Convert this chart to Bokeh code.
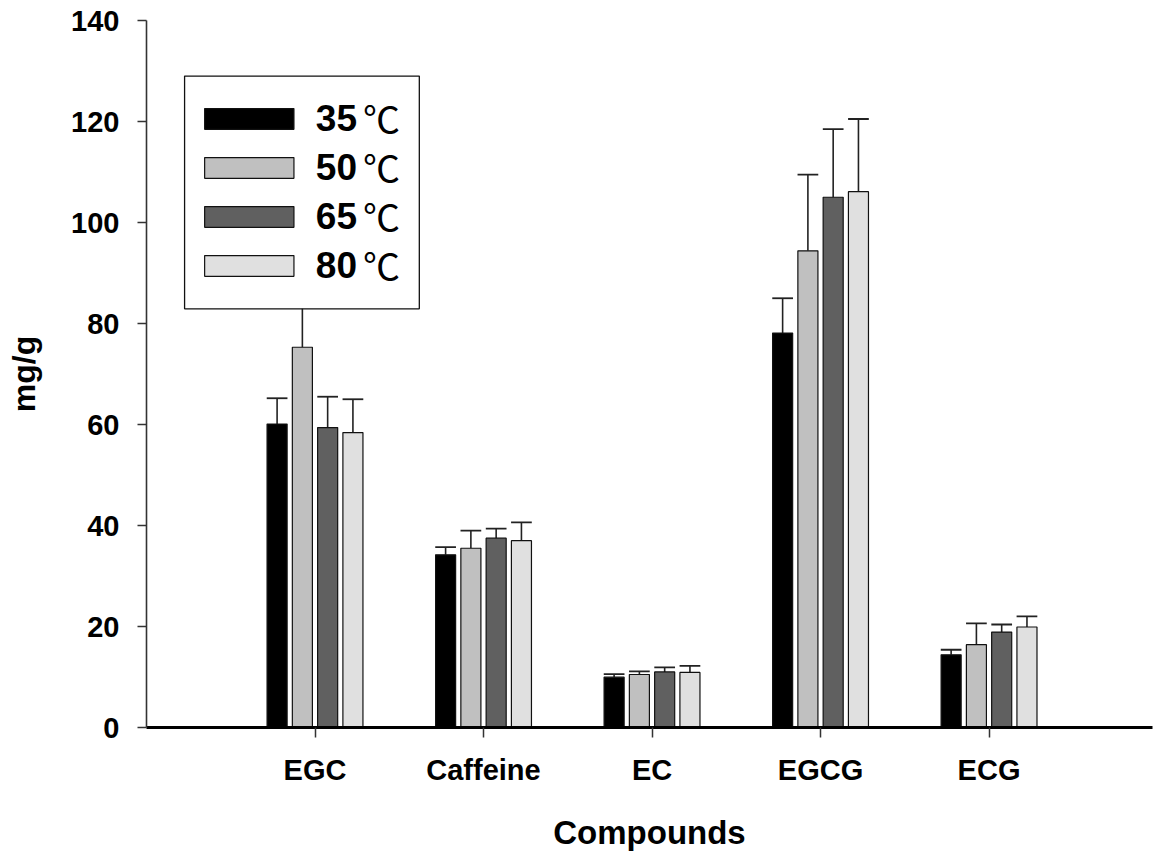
import numpy as np
from bokeh.plotting import figure
from bokeh.models import Range1d, FixedTicker
from bokeh.core.properties import value
from bokeh.embed import file_html
from bokeh.resources import INLINE

# ---- data ----
compounds = ["EGC", "Caffeine", "EC", "EGCG", "ECG"]
temps = ["35", "50", "65", "80"]
means_35 = [60.1, 34.2, 9.96, 78.1, 14.4]
err_35 = [5.1, 1.5, 0.6, 6.9, 1.0]
means_50 = [75.3, 35.5, 10.5, 94.4, 16.4]
err_50 = [9.0, 3.5, 0.6, 15.1, 4.2]
means_65 = [59.4, 37.5, 11.0, 105.0, 18.9]
err_65 = [6.1, 1.9, 0.9, 13.5, 1.5]
means_80 = [58.4, 37.0, 10.9, 106.1, 19.9]
err_80 = [6.6, 3.6, 1.3, 14.4, 2.1]
y_ticks = [0, 20, 40, 60, 80, 100, 120, 140]

means = [means_35, means_50, means_65, means_80]
errs = [err_35, err_50, err_65, err_80]
colors = ["#000000", "#c0c0c0", "#606060", "#e0e0e0"]
offsets = [-0.225, -0.075, 0.075, 0.225]
bar_w = 0.119
cap_w = 0.123
FONT = "Liberation Sans"

p = figure(width=1154, height=853, output_backend="svg", toolbar_location=None,
           x_range=Range1d(0.0, 5.97), y_range=Range1d(0, 140),
           min_border_left=146, min_border_right=2, min_border_top=20,
           min_border_bottom=126)
p.outline_line_color = None
p.xgrid.visible = False
p.ygrid.visible = False
p.background_fill_color = "white"
p.border_fill_color = "white"

xc = np.arange(1, len(compounds) + 1)
for m, e, c, o in zip(means, errs, colors, offsets):
    x = xc + o
    top = np.array(m)
    upper = top + np.array(e)
    p.segment(x0=x, y0=top, x1=x, y1=upper, line_color="#222222", line_width=1.6)
    p.segment(x0=x - cap_w / 2, y0=upper, x1=x + cap_w / 2, y1=upper,
              line_color="#222222", line_width=1.8)
    p.vbar(x=x, top=top, bottom=0, width=bar_w, fill_color=c,
           line_color="#111111", line_width=1.2)

# ---- legend (manual, drawn above the bars) ----
p.quad(left=[0.226], right=[1.619], bottom=[82.9], top=[129.0],
       fill_color="white", line_color="#111111", line_width=1.3)
row_y = [120.5, 110.8, 101.1, 91.4]
p.rect(x=[0.61] * 4, y=row_y, width=0.53, height=4.1, fill_color=colors,
       line_color="#111111", line_width=1.2)
txt_y = [y + 0.1 for y in row_y]
p.text(x=[1.005] * 4, y=txt_y, text=temps, text_font=value(FONT),
       text_font_style="bold", text_font_size="37px", text_color="black",
       text_baseline="middle", text_align="left")
p.text(x=[1.285] * 4, y=txt_y, text=["℃"] * 4, text_font=value("Noto Sans CJK KR"),
       text_font_style="normal", text_font_size="37px", text_color="black",
       text_baseline="middle", text_align="left")

# ---- axes ----
xa = p.xaxis[0]
xa.ticker = FixedTicker(ticks=list(xc))
xa.major_label_overrides = {int(i): c for i, c in zip(xc, compounds)}
xa.axis_label = "Compounds"
xa.axis_line_width = 3
xa.axis_line_color = "black"
xa.major_tick_in = 0
xa.major_tick_out = 10
xa.major_tick_line_width = 1.5
xa.major_tick_line_color = "#333333"
xa.minor_tick_line_color = None
xa.major_label_text_font = FONT
xa.major_label_text_font_style = "bold"
xa.major_label_text_font_size = "29px"
xa.major_label_text_color = "black"
xa.major_label_standoff = 16
xa.axis_label_text_font = FONT
xa.axis_label_text_font_style = "bold"
xa.axis_label_text_font_size = "33px"
xa.axis_label_text_color = "black"
xa.axis_label_standoff = 25

ya = p.yaxis[0]
ya.ticker = FixedTicker(ticks=y_ticks)
ya.axis_label = "mg/g"
ya.axis_line_width = 1.6
ya.axis_line_color = "#333333"
ya.major_tick_in = 0
ya.major_tick_out = 9
ya.major_tick_line_width = 1.5
ya.major_tick_line_color = "#333333"
ya.minor_tick_line_color = None
ya.major_label_text_font = FONT
ya.major_label_text_font_style = "bold"
ya.major_label_text_font_size = "29px"
ya.major_label_text_color = "black"
ya.major_label_standoff = 18
ya.axis_label_text_font = FONT
ya.axis_label_text_font_style = "bold"
ya.axis_label_text_font_size = "32px"
ya.axis_label_text_color = "black"
ya.axis_label_standoff = 26

open("out.html", "w").write(file_html(p, INLINE))
